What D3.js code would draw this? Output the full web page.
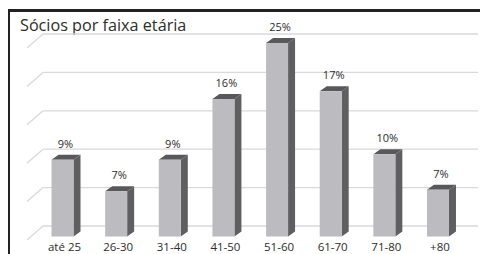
<!DOCTYPE html>
<meta charset="utf-8">
<style>
body { margin: 0; background: #fff; }
text { font-family: "Open Sans", sans-serif; fill: #2b2b2b; }
</style>
<body>
<script src="https://d3js.org/d3.v7.min.js"></script>
<script>

// data
var categories = ["até 25", "26-30", "31-40", "41-50", "51-60", "61-70", "71-80", "+80"];
var values = [10.0, 5.9, 10.0, 17.9, 25.2, 18.9, 10.7, 6.1];   // bar heights (%)
var labels = ["9%", "7%", "9%", "16%", "25%", "17%", "10%", "7%"];
var gridTicks = [0, 5, 10, 15, 20, 25];

var width = 480, height = 254;
var depthX = 16, depthY = 14;   // 3d wall offset
var sideX = 7, sideY = 5;       // bar side / cap offset
var wallShift = 10.5;           // back wall sits above the bar front

var svg = d3.select("body").append("svg")
    .attr("width", width)
    .attr("height", height);

// scales
var x = d3.scaleBand()
    .domain(categories)
    .range([35.7, 464.8])
    .paddingInner(0.59)
    .paddingOuter(0.295);

var y = d3.scaleLinear()
    .domain([0, 25])
    .range([236.5, 44.5]);

// frame
svg.append("line")
    .attr("x1", 8).attr("x2", width)
    .attr("y1", 10.5).attr("y2", 10.5)
    .style("stroke", "#222").style("stroke-width", 3);
svg.append("line")
    .attr("x1", 9).attr("x2", 9)
    .attr("y1", 9).attr("y2", height)
    .style("stroke", "#222").style("stroke-width", 2);

// title
svg.append("text")
    .attr("x", 20)
    .attr("y", 31)
    .style("font-size", "16.2px")
    .text("Sócios por faixa etária");

// gridlines on the back wall + side wall diagonals
var grid = svg.append("g").attr("class", "grid");
grid.selectAll("line.h")
    .data(gridTicks)
  .enter().append("line")
    .attr("class", "h")
    .attr("x1", 43).attr("x2", 478)
    .attr("y1", function(d) { return y(d) - wallShift; })
    .attr("y2", function(d) { return y(d) - wallShift; })
    .style("stroke", "#d9d9d9").style("stroke-width", 1.3);
grid.selectAll("line.d")
    .data(gridTicks)
  .enter().append("line")
    .attr("class", "d")
    .attr("x1", 43 - depthX).attr("x2", 43)
    .attr("y1", function(d) { return y(d) - wallShift + depthY; })
    .attr("y2", function(d) { return y(d) - wallShift; })
    .style("stroke", "#d9d9d9").style("stroke-width", 1.3);

// bars
var bars = svg.selectAll("g.bar")
    .data(categories)
  .enter().append("g")
    .attr("class", "bar");

bars.append("polygon")   // side
    .attr("points", function(d, i) {
      var x1 = x(d) + x.bandwidth(), t = y(values[i]), b = y(0);
      return [[x1, t], [x1 + sideX, t - sideY], [x1 + sideX, b - sideY], [x1, b]].join(" ");
    })
    .style("fill", "#5f5f61");

bars.append("polygon")   // cap
    .attr("points", function(d, i) {
      var x0 = x(d), x1 = x0 + x.bandwidth(), t = y(values[i]);
      return [[x0, t], [x0 + sideX, t - sideY], [x1 + sideX, t - sideY], [x1, t]].join(" ");
    })
    .style("fill", "#58585a");

bars.append("rect")      // front
    .attr("x", function(d) { return x(d); })
    .attr("y", function(d, i) { return y(values[i]); })
    .attr("width", x.bandwidth())
    .attr("height", function(d, i) { return y(0) - y(values[i]); })
    .style("fill", "#bcbcc0");

// value labels
bars.append("text")
    .attr("x", function(d) { return x(d) + x.bandwidth() / 2 + 3; })
    .attr("y", function(d, i) { return y(values[i]) - sideY - 7; })
    .attr("text-anchor", "middle")
    .style("font-size", "11px")
    .text(function(d, i) { return labels[i]; });

// category axis labels
bars.append("text")
    .attr("x", function(d) { return x(d) + x.bandwidth() / 2 + 2; })
    .attr("y", 251)
    .attr("text-anchor", "middle")
    .style("font-size", "11.5px")
    .text(function(d) { return d; });

</script>
</body>
